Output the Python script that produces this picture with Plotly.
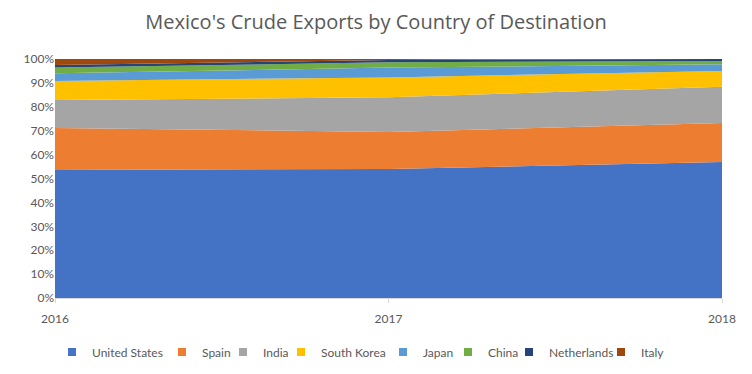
import plotly.graph_objects as go

years = [2016, 2017, 2018]
countries = ["United States", "Spain", "India", "South Korea", "Japan", "China", "Netherlands", "Italy"]
us = [53.6, 54.0, 56.9]
spain = [17.5, 15.5, 16.3]
india = [11.7, 14.5, 15.2]
south_korea = [8.0, 8.3, 6.6]
japan = [3.2, 4.1, 2.8]
china = [2.4, 2.2, 1.4]
netherlands = [1.1, 1.0, 0.8]
italy = [2.5, 0.4, 0.0]
series = [us, spain, india, south_korea, japan, china, netherlands, italy]
colors = ["#4472C4", "#ED7D31", "#A5A5A5", "#FFC000", "#5B9BD5", "#70AD47", "#264478", "#9E480E"]
# legend text start positions (container pixels)
legend_text_x = [92, 202, 263, 321, 423, 488, 549, 641]

W, H = 752, 374
fig = go.Figure()
for name, vals, col in zip(countries, series, colors):
    fig.add_trace(go.Scatter(
        x=years, y=vals, name=name, mode="lines",
        stackgroup="one", groupnorm="percent",
        line=dict(width=0, color=col), fillcolor=col, showlegend=False,
    ))

legend_layout = {}
for i, (name, col, tx) in enumerate(zip(countries, colors, legend_text_x)):
    key = "legend" if i == 0 else f"legend{i+1}"
    fig.add_trace(go.Scatter(
        x=[None], y=[None], mode="markers", name=name,
        marker=dict(symbol="square", size=8, color=col),
        legend=key, showlegend=True, hoverinfo="skip",
    ))
    legend_layout[key] = dict(
        orientation="h", xref="container", yref="container",
        x=(tx - 40) / W, xanchor="left", y=1 - 352 / H, yanchor="middle",
        font=dict(size=12, color="#595959"), bgcolor="rgba(0,0,0,0)",
        itemwidth=30,
    )

fig.update_layout(
    width=W, height=H,
    margin=dict(l=55, r=30, t=59, b=76, autoexpand=False),
    paper_bgcolor="white", plot_bgcolor="white",
    font=dict(family="Lato, Open Sans, sans-serif", color="#595959", size=12),
    title=dict(text="Mexico's Crude Exports by Country of Destination",
               x=0.5, xanchor="center", y=1 - 22 / H, yanchor="middle",
               font=dict(family="Open Sans, sans-serif", size=20, color="#595959")),
    showlegend=True,
    **legend_layout,
)
fig.update_xaxes(range=[2016, 2018], tickvals=years, ticktext=[str(y) for y in years],
                 showgrid=False, showline=True, linecolor="#D9D9D9", linewidth=1,
                 ticks="outside", ticklen=4, tickcolor="#D9D9D9", zeroline=False,
                 ticklabelstandoff=6,
                 tickfont=dict(size=12, color="#595959"))
fig.update_yaxes(range=[0, 100], dtick=10, ticksuffix="%", showgrid=False,
                 zeroline=False, showline=False, tickfont=dict(size=12, color="#595959"))

fig.write_html("out.html", config={"displayModeBar": False},
               post_script="document.body.style.margin='0';")
